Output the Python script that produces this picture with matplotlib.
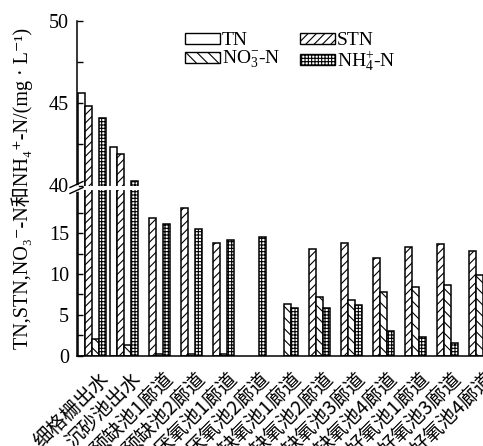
import numpy as np
import matplotlib
matplotlib.use("Agg")
import matplotlib.pyplot as plt
from matplotlib.patches import Patch
from matplotlib.lines import Line2D
from matplotlib.transforms import ScaledTranslation

plt.rcParams['font.family'] = ['Liberation Serif', 'DejaVu Serif', 'Noto Sans CJK SC']
plt.rcParams['mathtext.fontset'] = 'custom'
plt.rcParams['mathtext.rm'] = 'Liberation Serif'
plt.rcParams['mathtext.it'] = 'Liberation Serif:italic'
plt.rcParams['hatch.linewidth'] = 0.8

categories = ['细格栅出水', '沉砂池出水', '预缺池1廊道', '预缺池2廊道', '厌氧池1廊道', '厌氧池2廊道',
              '缺氧池1廊道', '缺氧池2廊道', '缺氧池3廊道', '缺氧池4廊道', '好氧池1廊道', '好氧池3廊道',
              '好氧池4廊道']
nan = np.nan
TN = [45.6, 42.35, nan, nan, nan, nan, nan, nan, nan, nan, nan, nan, nan]
STN = [44.85, 41.9, 16.85, 18.15, 13.85, nan, nan, 13.05, 13.85, 12.0, 13.3, 13.65, 12.85]
NO3 = [2.0, 1.3, 0.2, 0.2, 0.2, nan, 6.35, 7.25, 6.8, 7.75, 8.45, 8.65, 9.85]
NH4 = [44.1, 40.3, 16.1, 15.5, 14.15, 14.5, 5.8, 5.8, 6.2, 3.05, 2.35, 1.55, nan]

series = [('TN', TN, ''), ('STN', STN, '////'),
          ('$\\mathrm{NO_3^{-}}$-N', NO3, '\\\\\\'), ('$\\mathrm{NH_4^{+}}$-N', NH4, '+++++')]

W, H = 483, 446
fig = plt.figure(figsize=(W / 100, H / 100), dpi=100)

left = 76.7 / W
ax_top = fig.add_axes([left, 1 - 185.5 / H, 1 - left, (185.5 - 20.7) / H])
ax_bot = fig.add_axes([left, 1 - 355.7 / H, 1 - left, (355.7 - 190) / H])

x = np.arange(len(categories))
w = 0.221
offsets = [-1.5 * w, -0.5 * w, 0.5 * w, 1.5 * w]

for ax in (ax_top, ax_bot):
    for (name, vals, hatch), off in zip(series, offsets):
        ax.bar(x + off, vals, w, facecolor='white', edgecolor='black', hatch=hatch,
               linewidth=1.1)
    ax.set_xlim(-0.473, 12.22)
    for s in ('top', 'right'):
        ax.spines[s].set_visible(False)
    ax.spines['left'].set_linewidth(1.1)
    ax.tick_params(axis='y', which='major', direction='in', length=4, width=1,
                   labelsize=14.5, pad=5.5)
    ax.tick_params(axis='y', which='minor', direction='in', length=4, width=1)

ax_top.set_ylim(40, 50)
ax_top.set_yticks([40, 45, 50])
ax_top.set_yticks([42.5, 47.5], minor=True)
ax_top.spines['bottom'].set_visible(False)
ax_top.set_xticks([])

ax_bot.set_ylim(0, 20.3)
ax_bot.set_yticks([0, 5, 10, 15])
ax_bot.set_yticks([2.5, 7.5, 12.5, 17.5], minor=True)
ax_bot.spines['bottom'].set_linewidth(1.1)
ax_bot.set_xticks(x)
ax_bot.set_xticklabels([])
ax_bot.tick_params(axis='x', length=0)

lab_tr = ax_bot.get_xaxis_transform() + ScaledTranslation(7 / 100, -13 / 100, fig.dpi_scale_trans)
for xi, cat in zip(x, categories):
    ax_bot.text(xi, 0, cat, transform=lab_tr, rotation=45, rotation_mode='anchor',
                ha='right', va='top', fontsize=14, family=['Noto Sans CJK SC'], clip_on=False)

# break marks
fig.add_artist(Line2D([76.7 / W, 76.7 / W], [1 - 185.5 / H, 1 - 190 / H], color='white', lw=2))
for yy in (184.5, 190.5):
    fig.add_artist(Line2D([70 / W, 83 / W], [1 - (yy + 3) / H, 1 - (yy - 3) / H],
                          color='black', lw=1))

# legend
handles = [Patch(facecolor='white', edgecolor='black', hatch=h, linewidth=1) for _, _, h in series]
labels = [n for n, _, _ in series]
order = [0, 2, 1, 3]
leg = ax_top.legend([handles[i] for i in order], [labels[i] for i in order], ncol=2,
                    loc='upper left', bbox_to_anchor=((185 - 76.7) / (W - 76.7), 1 - (32 - 20.7) / 164.8),
                    frameon=False, fontsize=14, handlelength=1.8, handleheight=0.5,
                    handletextpad=0.1, labelspacing=0.0, columnspacing=1.0, borderpad=0,
                    borderaxespad=0)

fig.text(22 / W, 1 - 188 / H, 'TN,STN,NO₃⁻-N和NH₄⁺-N/(mg · L⁻¹)', rotation=90,
         ha='center', va='center', fontsize=14.5)

fig.savefig('out.png', dpi=100)
